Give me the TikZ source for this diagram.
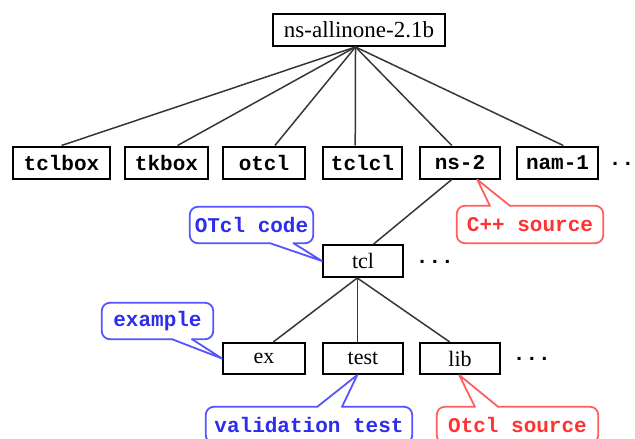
\documentclass[tikz,border=0pt]{standalone}
\usepackage{fontspec}
\setmainfont{Liberation Serif}
\setmonofont{Liberation Mono}
\usetikzlibrary{calc}
\definecolor{cblue}{RGB}{85,85,255}
\definecolor{cbluetext}{RGB}{45,45,235}
\definecolor{cred}{RGB}{255,95,95}
\definecolor{credtext}{RGB}{255,50,50}
\definecolor{conn}{RGB}{55,55,55}
\begin{document}
\begin{tikzpicture}[x=1pt,y=-1pt,
  box/.style={draw=black, line width=2pt, inner sep=0pt, minimum height=32pt,
    font=\fontsize{21}{21}\selectfont\ttfamily\bfseries},
  sbox/.style={draw=black, line width=2pt, inner sep=0pt, minimum height=31pt,
    font=\fontsize{22}{22}\selectfont},
  dotsnode/.style={inner sep=0pt, anchor=base west,
    font=\fontsize{21}{21}\selectfont\ttfamily\bfseries},
  link/.style={draw=conn, line width=1.5pt},
  callout/.style={inner sep=0pt, minimum height=36pt,
    font=\fontsize{21}{21}\selectfont\ttfamily\bfseries},
  outl/.style={line width=1.8pt, rounded corners=8pt, line cap=round, line join=round},
  wedge/.style={line width=1.8pt, line cap=round, line join=round}
]
\useasboundingbox (0,0) rectangle (635,439);

% root
\node[sbox, minimum width=172pt, minimum height=32pt, font=\fontsize{23}{23}\selectfont] (root) at (359,30) {ns-allinone-2.1b};

% second row
\node[box, minimum width=97pt] (tclbox) at (61.5,162.5) {tclbox};
\node[box, minimum width=83pt] (tkbox) at (166.5,162.5) {tkbox};
\node[box, minimum width=82pt] (otcl) at (264,162.5) {otcl};
\node[box, minimum width=79pt] (tclcl) at (362.5,162.5) {tclcl};
\node[box, minimum width=80pt] (ns2) at (460,162.5) {ns-2};
\node[box, minimum width=81pt] (nam1) at (557.5,162.5) {nam-1};
\node[dotsnode] (dots1) at (608.7,165) {..};

% tcl
\node[sbox, minimum width=80pt, minimum height=32pt] (tcl) at (363,261) {tcl};
\node[dotsnode] (dots2) at (415.7,263) {...};

% third row
\node[sbox, minimum width=82pt] (ex) at (264,358.5) {ex};
\node[sbox, minimum width=80pt] (test) at (363,358.5) {test};
\node[sbox, minimum width=80pt] (lib) at (460,358.5) {lib};
\node[dotsnode] (dots3) at (512.7,360) {...};

% connectors
\coordinate (rb) at ($(root.south west)!0.48!(root.south east)$);
\draw[link] (rb) -- (tclbox.north);
\draw[link] (rb) -- ($(tkbox.north west)!0.63!(tkbox.north east)$);
\draw[link] (rb) -- ($(otcl.north west)!0.63!(otcl.north east)$);
\draw[link] (rb) -- ($(tclcl.north west)!0.41!(tclcl.north east)$);
\draw[link] (rb) -- ($(ns2.north west)!0.4!(ns2.north east)$);
\draw[link] (rb) -- ($(nam1.north west)!0.57!(nam1.north east)$);

\draw[link] ($(ns2.south west)!0.4!(ns2.south east)$) -- ($(tcl.north west)!0.63!(tcl.north east)$);

\coordinate (tb) at ($(tcl.south west)!0.43!(tcl.south east)$);
\draw[link] (tb) -- ($(ex.north west)!0.61!(ex.north east)$);
\draw[link] (tb) -- ($(test.north west)!0.43!(test.north east)$);
\draw[link] (tb) -- ($(lib.north west)!0.375!(lib.north east)$);

% callouts
\node[callout, text=cbluetext, minimum width=123pt] (oc) at (251.5,225) {OTcl code};
\draw[outl, cblue] ($(oc.south west)!0.65!(oc.south east)$) -- (oc.south west) -- (oc.north west) -- (oc.north east) -- (oc.south east) -- ($(oc.south west)!0.84!(oc.south east)$);
\draw[wedge, cblue] ($(oc.south west)!0.65!(oc.south east)$) -- (tcl.west) -- ($(oc.south west)!0.84!(oc.south east)$);

\node[callout, text=cbluetext, minimum width=111pt] (exm) at (157.5,321) {example};
\draw[outl, cblue] ($(exm.south west)!0.63!(exm.south east)$) -- (exm.south west) -- (exm.north west) -- (exm.north east) -- (exm.south east) -- ($(exm.south west)!0.81!(exm.south east)$);
\draw[wedge, cblue] ($(exm.south west)!0.63!(exm.south east)$) -- (ex.west) -- ($(exm.south west)!0.81!(exm.south east)$);

\node[callout, text=cbluetext, minimum width=206pt] (vt) at (309,425) {validation test};
\draw[outl, cblue] ($(vt.north west)!0.54!(vt.north east)$) -- (vt.north west) -- (vt.south west) -- (vt.south east) -- (vt.north east) -- ($(vt.north west)!0.66!(vt.north east)$);
\draw[wedge, cblue] ($(vt.north west)!0.54!(vt.north east)$) -- ($(test.south west)!0.43!(test.south east)$) -- ($(vt.north west)!0.66!(vt.north east)$);

\node[callout, text=credtext, minimum width=161pt] (os) at (517.5,425) {Otcl source};
\draw[outl, cred] ($(os.north west)!0.236!(os.north east)$) -- (os.north west) -- (os.south west) -- (os.south east) -- (os.north east) -- ($(os.north west)!0.38!(os.north east)$);
\draw[wedge, cred] ($(os.north west)!0.236!(os.north east)$) -- ($(lib.south west)!0.49!(lib.south east)$) -- ($(os.north west)!0.38!(os.north east)$);

\node[callout, text=credtext, minimum width=146pt, minimum height=37pt] (cs) at (530,224.5) {C++ source};
\draw[outl, cred] ($(cs.north west)!0.226!(cs.north east)$) -- (cs.north west) -- (cs.south west) -- (cs.south east) -- (cs.north east) -- ($(cs.north west)!0.363!(cs.north east)$);
\draw[wedge, cred] ($(cs.north west)!0.226!(cs.north east)$) -- ($(ns2.south west)!0.71!(ns2.south east)$) -- ($(cs.north west)!0.363!(cs.north east)$);
\end{tikzpicture}
\end{document}
